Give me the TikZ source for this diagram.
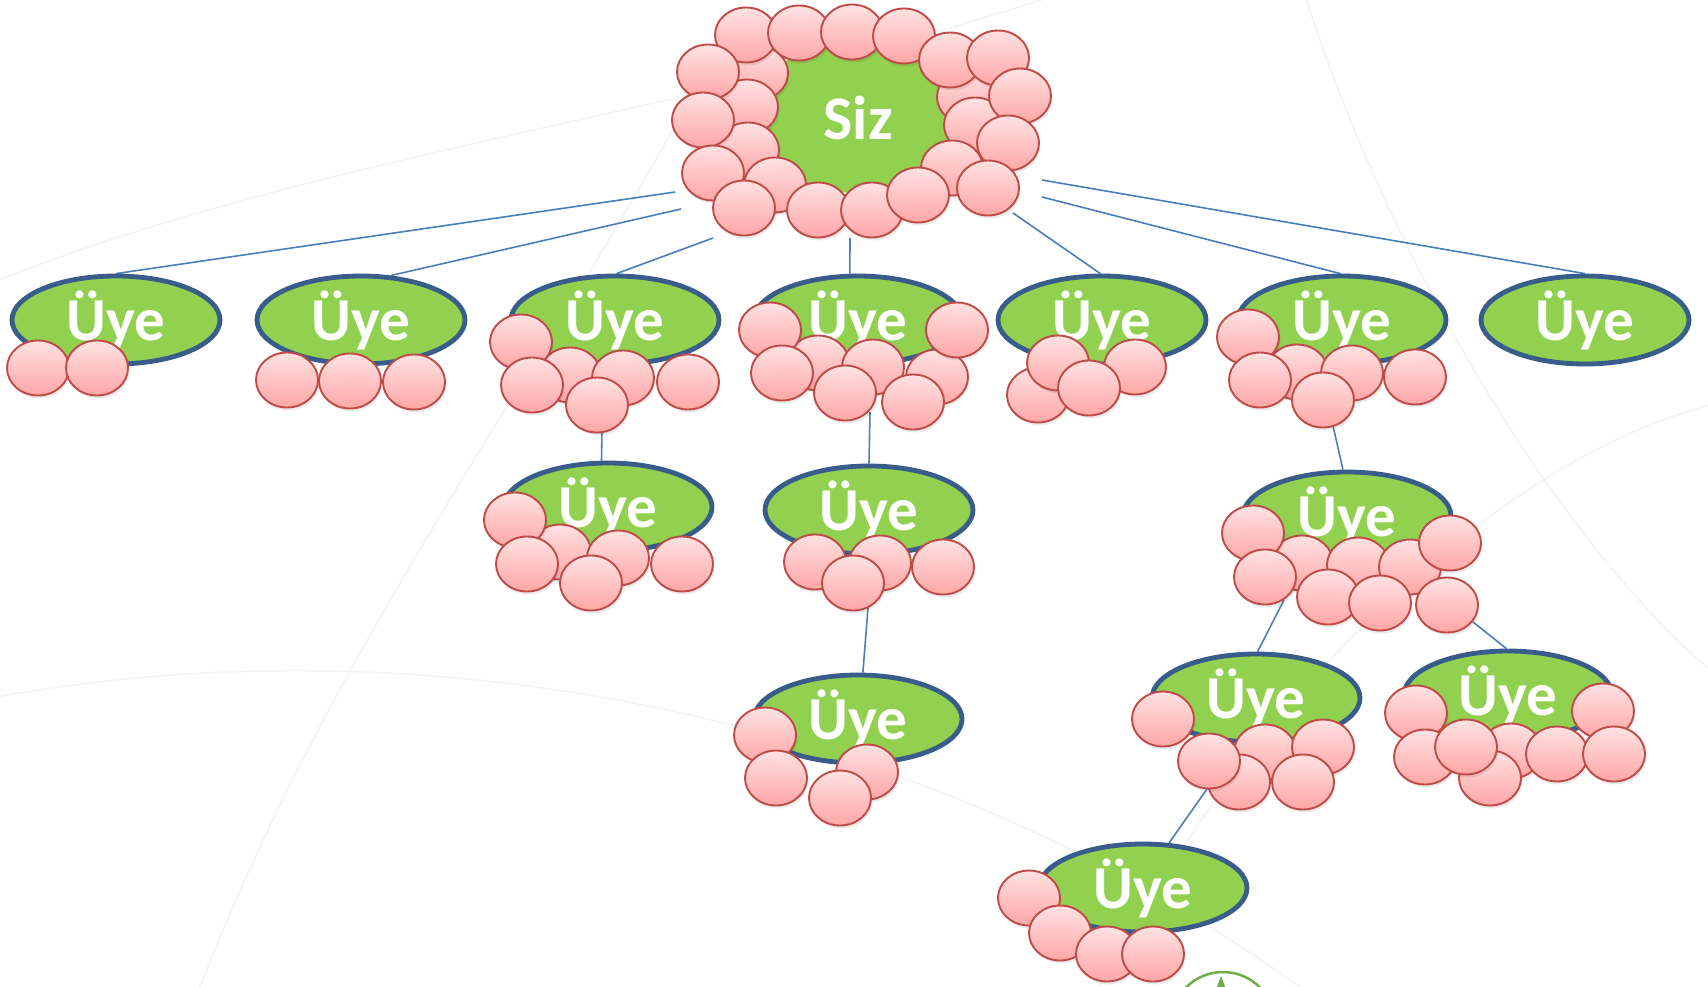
\documentclass[tikz,border=0pt]{standalone}
\usepackage{fontspec}
\setmainfont{Carlito}
\usetikzlibrary{shapes.geometric}
\pgfdeclarelayer{background}
\pgfsetlayers{background,main}
\definecolor{uyegreen}{RGB}{146,208,80}
\definecolor{uyeblue}{RGB}{56,93,138}
\definecolor{linkblue}{RGB}{74,126,187}
\definecolor{beadedge}{RGB}{190,75,72}
\definecolor{beadtop}{RGB}{255,226,226}
\definecolor{beadbot}{RGB}{255,166,166}
\definecolor{logogreen}{RGB}{112,173,71}
\definecolor{bgline}{RGB}{244,244,242}
\tikzset{
  member/.style={ellipse, fill=uyegreen, draw=uyeblue, line width=4.8pt,
    minimum width=208pt, minimum height=88pt, inner sep=0pt, text=white,
    font=\fontsize{61}{61}\selectfont\bfseries},
  rootnode/.style={ellipse, fill=uyegreen, minimum width=220pt, minimum height=150pt,
    inner sep=0pt, text=white, font=\fontsize{62}{62}\selectfont\bfseries},
  link/.style={draw=linkblue, line width=1.6pt},
  bead/.style={draw=beadedge, line width=1.9pt, top color=beadtop, bottom color=beadbot,
    preaction={fill=black, fill opacity=0.08, transform canvas={xshift=1.5pt, yshift=-3pt}}},
  bgcurve/.style={draw=bgline, line width=1.5pt},
}
\newcommand\beadrow[1]{\foreach \bx/\by in {#1}{\path[bead] (\bx,\by) ellipse [x radius=31pt, y radius=27.5pt];}}
\begin{document}
\begin{tikzpicture}[x=1pt,y=-1pt]
\useasboundingbox (0,0) rectangle (1708,987);
\begin{pgfonlayer}{background}
  \fill[white] (0,0) rectangle (1708,987);
  \begin{scope}
    \clip (0,0) rectangle (1708,987);
    \path[bgcurve] (-50,300) .. controls (300,150) and (700,120) .. (1100,-20);
    \path[bgcurve] (200,987) .. controls (350,600) and (600,300) .. (750,-20);
    \path[bgcurve] (1300,-20) .. controls (1400,300) and (1600,600) .. (1750,700);
    \path[bgcurve] (-20,700) .. controls (400,620) and (900,700) .. (1300,987);
    \path[bgcurve] (1100,987) .. controls (1250,700) and (1500,450) .. (1730,400);
  \end{scope}
\end{pgfonlayer}

% root and members
\node[rootnode] (root) at (858,118) {Siz};
\node[member] (u1) at (116,320) {Üye};
\node[member] (u2) at (361,320) {Üye};
\node[member] (u3) at (615,320) {Üye};
\node[member] (u4) at (858,320) {Üye};
\node[member] (u5) at (1102,320) {Üye};
\node[member] (u6) at (1342,320) {Üye};
\node[member] (u7) at (1585,320) {Üye};
\node[member] (u3a) at (608,507) {Üye};
\node[member] (u4a) at (869,510) {Üye};
\node[member] (u4b) at (858,719) {Üye};
\node[member] (u6a) at (1347,516) {Üye};
\node[member] (u6b) at (1256,698) {Üye};
\node[member] (u6c) at (1508,695) {Üye};
\node[member] (u6d) at (1143,888) {Üye};

% connector free ends
\coordinate (l1) at (675,192);
\coordinate (l2) at (681,209);
\coordinate (l3) at (713,238);
\coordinate (l4) at (850,238);
\coordinate (l5) at (1013,213);
\coordinate (l6) at (1042,197);
\coordinate (l7) at (1042,180);
\coordinate (c3) at (602,430);
\coordinate (c4) at (870,412);
\coordinate (c4a) at (868,608);
\coordinate (c6) at (1333,426);
\coordinate (c6b) at (1284,600);
\coordinate (c6c) at (1473,622);
\coordinate (c6d) at (1207,789);

\begin{pgfonlayer}{background}
  \draw[link] (l1) -- (u1.90);
  \draw[link] (l2) -- (u2.56);
  \draw[link] (l3) -- (u3.88);
  \draw[link] (l4) -- (u4.100);
  \draw[link] (l5) -- (u5.92);
  \draw[link] (l6) -- (u6.92);
  \draw[link] (l7) -- (u7.90);
  \draw[link] (c3) -- (u3a.98);
  \draw[link] (c4) -- (u4a.90);
  \draw[link] (c4a) -- (u4b.84);
  \draw[link] (c6) -- (u6a.95);
  \draw[link] (c6b) -- (u6b.88);
  \draw[link] (c6c) -- (u6c.92);
  \draw[link] (c6d) -- (u6d.60);
\end{pgfonlayer}

% beads round the root
\beadrow{757/73, 747/107, 748/150, 968/97, 975/125,
  746/35, 708/72, 703/120, 713/173, 799/33, 852/32, 904/36, 950/60, 998/58,
  1020/96, 1008/143, 952/168, 988/188, 775/185, 818/210, 744/208, 872/210, 918/195}
% beads of members
\beadrow{38/368, 97/368}
\beadrow{287/380, 350/381, 414/382}
\beadrow{570/375, 521/342, 532/385, 623/378, 688/382, 597/405}
\beadrow{818/363, 873/367, 937/377, 770/330, 782/373, 845/393, 913/402, 957/330}
\beadrow{1038/395, 1058/363, 1135/367, 1089/388}
\beadrow{1297/372, 1248/337, 1260/380, 1352/373, 1415/377, 1323/400}
\beadrow{560/552, 515/520, 527/564, 618/558, 682/564, 591/583}
\beadrow{815/562, 880/563, 943/567, 853/583}
\beadrow{765/735, 867/772, 776/778, 840/798}
\beadrow{1302/563, 1358/565, 1410/567, 1253/533, 1265/577, 1328/597, 1380/603, 1450/543, 1447/605}
\beadrow{1163/719, 1265/752, 1323/747, 1239/782, 1209/761, 1303/782}
\beadrow{1416/713, 1603/711, 1511/751, 1490/778, 1425/757, 1466/747, 1557/754, 1614/754}
\beadrow{1029/898, 1060/933, 1107/954, 1153/954}

% partial logo at the bottom edge
\begin{scope}
  \clip (0,0) rectangle (1708,987);
  \draw[logogreen, line width=2.5pt] (1223,1024) circle [radius=52pt];
  \fill[logogreen] (1221,976) -- (1227,992) -- (1215,992) -- cycle;
\end{scope}
\end{tikzpicture}
\end{document}
